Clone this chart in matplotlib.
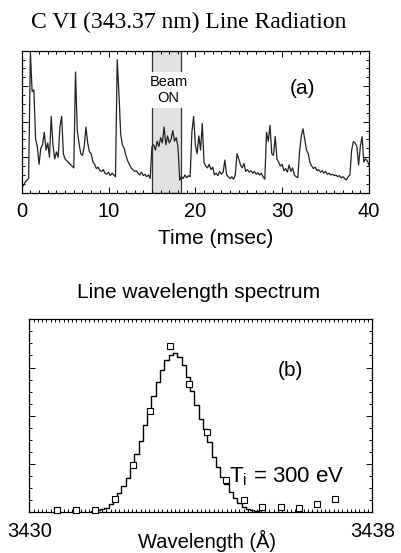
import numpy as np
import matplotlib
matplotlib.use("Agg")
import matplotlib.pyplot as plt
from matplotlib.ticker import MultipleLocator, FixedLocator

# ---------------- data: panel (a) C VI line radiation vs time ----------------
time_start, time_step = 0.0, 0.2  # msec
radiation = [
    0.15, 0.20, 0.30, 0.35, 0.40,
    3.95, 2.85, 2.90, 1.50, 1.30,
    0.80, 1.25, 1.35, 1.70, 1.20,
    1.40, 1.00, 2.15, 1.35, 0.95,
    1.15, 1.00, 1.85, 2.15, 1.10,
    0.95, 0.90, 0.85, 0.80, 0.75,
    0.70, 3.40, 1.75, 1.40, 1.10,
    1.05, 1.30, 1.85, 1.40, 1.15,
    1.10, 0.87, 0.80, 0.68, 0.72,
    0.62, 0.60, 0.65, 0.55, 0.52,
    0.58, 0.48, 0.55, 0.50, 0.45,
    3.75, 2.80, 1.65, 1.35, 1.25,
    1.05, 0.90, 0.80, 0.70, 0.65,
    0.60, 0.62, 0.55, 0.50, 0.58,
    0.48, 0.52, 0.45, 0.50, 0.40,
    1.30, 1.35, 1.20, 1.45, 1.30,
    1.55, 1.40, 1.85, 1.35, 1.60,
    1.40, 1.50, 1.75, 1.45, 1.55,
    1.30, 0.35, 0.45, 0.40, 0.50,
    0.42, 0.48, 0.45, 1.70, 2.15,
    1.35, 1.10, 1.60, 1.20, 1.95,
    0.85, 0.75, 0.70, 0.80, 0.65,
    0.72, 0.50, 0.55, 0.48, 0.60,
    0.52, 0.58, 0.92, 0.50, 0.45,
    0.40, 0.45, 0.38, 0.50, 1.10,
    0.95, 0.78, 0.70, 0.82, 0.60,
    0.65, 0.58, 0.62, 0.55, 0.60,
    0.52, 0.56, 0.50, 0.55, 0.45,
    0.38, 1.70, 1.45, 1.90, 1.10,
    1.05, 1.58, 0.95, 0.85, 0.75,
    0.80, 0.62, 0.68, 0.58, 0.78,
    0.60, 0.70, 0.50, 0.45, 0.42,
    1.15, 1.60, 1.80, 1.50, 1.20,
    1.10, 0.85, 0.75, 0.68, 0.72,
    0.62, 0.65, 0.58, 0.62, 0.55,
    0.60, 0.52, 0.55, 0.50, 0.52,
    0.48, 0.50, 0.45, 0.48, 0.42,
    0.45, 0.40, 0.36, 0.45, 0.50,
    1.20, 1.44, 1.40, 1.30, 0.78,
    1.30, 1.58, 0.87, 0.95, 0.90,
    0.78,
]
beam_on = [15.0, 18.3]  # msec

# ---------------- data: panel (b) line wavelength spectrum ----------------
meas_wavelength = [3430.64, 3431.09, 3431.53, 3432.00, 3432.41, 3432.82, 3433.27, 3433.73,
                   3434.14, 3434.58, 3435.00, 3435.42, 3435.87, 3436.29, 3436.72, 3437.13]
meas_intensity = [0.05, 0.05, 0.05, 0.27, 0.97, 2.10, 3.45, 2.66,
                  1.67, 0.67, 0.26, 0.10, 0.12, 0.08, 0.17, 0.28]

fit_start, fit_step = 3431.4, 0.1  # Angstrom
fit_intensity = [
    0.01, 0.02, 0.04, 0.06, 0.09, 0.18, 0.28, 0.39, 0.54, 0.72,
    0.95, 1.20, 1.48, 1.80, 2.10, 2.42, 2.70, 2.95, 3.15, 3.27,
    3.30, 3.22, 3.05, 2.80, 2.52, 2.22, 1.93, 1.72, 1.45, 1.15,
    0.93, 0.74, 0.58, 0.43, 0.30, 0.20, 0.12, 0.07, 0.04, 0.02,
    0.01,
]

time = time_start + time_step * np.arange(len(radiation))
fit_wavelength = fit_start + fit_step * np.arange(len(fit_intensity))

W, H = 401, 553
fig = plt.figure(figsize=(W / 100, H / 100), dpi=100)
plt.rcParams['font.family'] = ['Liberation Sans', 'DejaVu Sans']


def fx(px):
    return px / W


def fy(py):
    return 1 - py / H


# ---------------- panel (a) ----------------
axa = fig.add_axes([fx(21.7), fy(192.7), fx(369) - fx(21.7), fy(50.7) - fy(192.7)])
axa.set_xlim(0, 40)
axa.set_ylim(0, 4)
axa.axvspan(beam_on[0], beam_on[1], facecolor='#e2e2e2', edgecolor='#333333', lw=0.9, zorder=1)
axa.plot(time, radiation, color='#222222', lw=0.9, zorder=3)
axa.text(16.9, 2.89, 'Beam\nON', ha='center', va='center', fontsize=10.5, linespacing=1.15,
         bbox=dict(facecolor='white', edgecolor='none', pad=2.5), zorder=4)
axa.text(32.3, 2.94, '(a)', ha='center', va='center', fontsize=15)
axa.xaxis.set_major_locator(MultipleLocator(10))
axa.xaxis.set_minor_locator(MultipleLocator(1))
axa.yaxis.set_major_locator(FixedLocator([1, 2, 3]))
axa.yaxis.set_minor_locator(MultipleLocator(0.25))
axa.tick_params(which='both', direction='in', top=True, right=True, width=0.7)
axa.tick_params(which='major', length=4)
axa.tick_params(which='minor', length=2.5)
axa.tick_params(axis='x', labelsize=14.5, pad=7)
axa.set_yticklabels([])
for s in axa.spines.values():
    s.set_linewidth(0.9)

fig.text(fx(188.5), fy(22), 'C VI (343.37 nm) Line Radiation', ha='center', va='center',
         fontsize=17, family=['Liberation Serif', 'DejaVu Serif'])
fig.text(fx(216), fy(239), 'Time (msec)', ha='center', va='center', fontsize=15)

# ---------------- panel (b) ----------------
axb = fig.add_axes([fx(29.3), fy(512.3), fx(372.3) - fx(29.3), fy(319.3) - fy(512.3)])
axb.set_xlim(3430, 3438)
axb.set_ylim(0, 4)
axb.plot(fit_wavelength, fit_intensity, color='black', lw=1.0, drawstyle='steps-mid', zorder=3)
axb.plot(meas_wavelength, meas_intensity, ls='none', marker='s', ms=4.5, mfc='white',
         mec='black', mew=0.8, clip_on=False, zorder=4)
axb.text(3436.1, 2.93, '(b)', ha='center', va='center', fontsize=15)
axb.text(3434.66, 0.74, r'T$_\mathregular{i}$ = 300 eV', ha='left', va='center', fontsize=16)
axb.xaxis.set_major_locator(FixedLocator([3430, 3438]))
axb.xaxis.set_minor_locator(MultipleLocator(0.1))
axb.yaxis.set_major_locator(FixedLocator([1, 2, 3]))
axb.yaxis.set_minor_locator(MultipleLocator(0.25))
axb.tick_params(which='both', direction='in', top=True, right=True, width=0.7)
axb.tick_params(which='major', length=4)
axb.tick_params(which='minor', length=2)
axb.tick_params(axis='x', which='major', length=0, labelsize=14.5, pad=7)
axb.set_yticklabels([])
for s in axb.spines.values():
    s.set_linewidth(0.9)

fig.text(fx(199), fy(293), 'Line wavelength spectrum', ha='center', va='center', fontsize=15)
fig.text(fx(207), fy(541), 'Wavelength (Å)', ha='center', va='center', fontsize=14.5)

fig.savefig('out.png', dpi=100)
